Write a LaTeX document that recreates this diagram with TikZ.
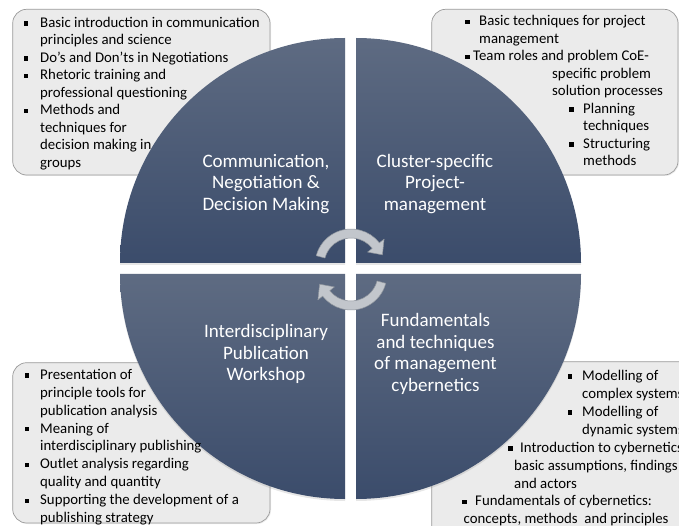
\documentclass[tikz,border=0pt]{standalone}
\usepackage{fontspec}
\setmainfont{Carlito}
\usetikzlibrary{calc,shadows}
\definecolor{qlight}{HTML}{5E6B82}
\definecolor{qdark}{HTML}{3B4C6B}
\definecolor{boxfill}{HTML}{EBEBEB}
\definecolor{boxline}{HTML}{9A9A9A}
\definecolor{arrfill}{HTML}{C2C6CC}
\definecolor{arrline}{HTML}{8E949C}
\begin{document}
\begin{tikzpicture}[x=1pt,y=-1pt,
  infobox/.style={fill=boxfill, draw=boxline, line width=0.7pt, rounded corners=14pt,
    drop shadow={shadow xshift=1pt, shadow yshift=-1pt, opacity=0.15}},
  quad/.style={top color=qlight, bottom color=qdark, draw=none},
  lbl/.style={text=white, font=\fontsize{19}{21.5}\selectfont, align=center, inner sep=0pt},
  ln/.style={anchor=mid west, font=\fontsize{14.8}{17}\selectfont, inner sep=0pt, text=black},
  bul/.style={fill=black, minimum size=4.2pt, inner sep=0pt, draw=none, rectangle},
  cyc/.style={fill=arrfill, draw=arrline, line width=0.5pt, line join=round}]
\useasboundingbox (0,0) rectangle (679,526);
\clip (0,0) rectangle (679,526);
% info boxes
\draw[infobox] (12.7,9.3) rectangle (270,175);
\draw[infobox] (431.7,9.3) rectangle (678,175);
\draw[infobox] (12.7,362.7) rectangle (270,523);
\draw[infobox] (431.7,361.7) rectangle (700,545);
% quadrants
\path[quad, drop shadow={shadow xshift=0pt, shadow yshift=-2pt, opacity=0.2}] (345,263) -- (345,38) arc[start angle=270, end angle=180, radius=225] -- cycle;
\path[quad, drop shadow={shadow xshift=0pt, shadow yshift=-2pt, opacity=0.2}] (356,263) -- (581,263) arc[start angle=0, end angle=-90, radius=225] -- cycle;
\path[quad, drop shadow={shadow xshift=0pt, shadow yshift=-2pt, opacity=0.2}] (345,274) -- (120,274) arc[start angle=180, end angle=90, radius=225] -- cycle;
\path[quad, drop shadow={shadow xshift=0pt, shadow yshift=-2pt, opacity=0.2}] (356,274) -- (356,499) arc[start angle=90, end angle=0, radius=225] -- cycle;
% cycle arrows
\coordinate (ca) at (351,265);
\coordinate (cb) at (351,274);
\draw[cyc] ($(ca)+(-165:36)$) arc[start angle=-165, end angle=-38, radius=36]
  -- ($(ca)+(-38:42)$) -- ($(ca)+(-18:33)$) -- ($(ca)+(-38:21)$)
  -- ($(ca)+(-38:27)$) arc[start angle=-38, end angle=-165, radius=27] -- cycle;
\draw[cyc] ($(cb)+(15:36)$) arc[start angle=15, end angle=142, radius=36]
  -- ($(cb)+(142:42)$) -- ($(cb)+(162:33)$) -- ($(cb)+(142:21)$)
  -- ($(cb)+(142:27)$) arc[start angle=142, end angle=15, radius=27] -- cycle;
% quadrant labels
\node[lbl] (l1) at (266,184) {Communication,\\Negotiation \&\\Decision Making};
\node[lbl] (l2) at (435,184) {Cluster-specific\\Project-\\management};
\node[lbl] (l3) at (266,354) {Interdisciplinary\\Publication\\Workshop};
\node[lbl] (l4) at (435.5,354) {Fundamentals\\and techniques\\of management\\cybernetics};
% top-left box text
\foreach \x/\y/\t [count=\i] in {
  40/25/Basic introduction in communication,
  40/42.5/principles and science,
  40/60/Do’s and Don'ts in Negotiations,
  40/77.5/Rhetoric training and,
  40/95/professional questioning,
  40/112.5/Methods and,
  40/130/techniques for,
  40/147.5/decision making in,
  40/165/groups}
  \node[ln] (tl\i) at (\x,\y) {\t};
\foreach \x/\y [count=\i] in {26/25,26/60,26/77.5,26/112.5}
  \node[bul] (tlb\i) at (\x,\y-1.5) {};
% top-right box text
\foreach \x/\y/\t [count=\i] in {
  479/23.5/Basic techniques for project,
  479/41/management,
  473/58.5/Team roles and problem CoE-,
  552/76/specific problem,
  552/93.5/solution processes,
  583/111/Planning,
  583/128.5/techniques,
  583/146/Structuring,
  583/163.5/methods}
  \node[ln] (tr\i) at (\x,\y) {\t};
\foreach \x/\y [count=\i] in {467.5/23.5,467.5/58.5,571.5/111,571.5/146}
  \node[bul] (trb\i) at (\x,\y-1.5) {};
% bottom-left box text
\foreach \x/\y/\t [count=\i] in {
  40/377/Presentation of,
  40/394.9/principle tools for,
  40/412.8/publication analysis,
  40/430.7/Meaning of,
  40/448.6/interdisciplinary publishing,
  40/466.5/Outlet analysis regarding,
  40/484.4/quality and quantity,
  40/502.3/Supporting the development of a,
  40/520.2/publishing strategy}
  \node[ln] (bl\i) at (\x,\y) {\t};
\foreach \x/\y [count=\i] in {26.7/377,26.7/430.7,26.7/466.5,26.7/502.3}
  \node[bul] (blb\i) at (\x,\y-1.5) {};
% bottom-right box text
\foreach \x/\y/\t [count=\i] in {
  582/378/Modelling of,
  582/396/complex systems,
  582/414/Modelling of,
  582/432/dynamic systems,
  520/450/Introduction to cybernetics,
  514/468/{basic assumptions, findings},
  514/486/and actors,
  475/503.5/Fundamentals of cybernetics:,
  463.5/521.5/{concepts, methods\ \ and principles}}
  \node[ln] (br\i) at (\x,\y) {\t};
\foreach \x/\y [count=\i] in {570/378,570/414,510.5/450,464.5/503.5}
  \node[bul] (brb\i) at (\x,\y-1.5) {};
\end{tikzpicture}
\end{document}
